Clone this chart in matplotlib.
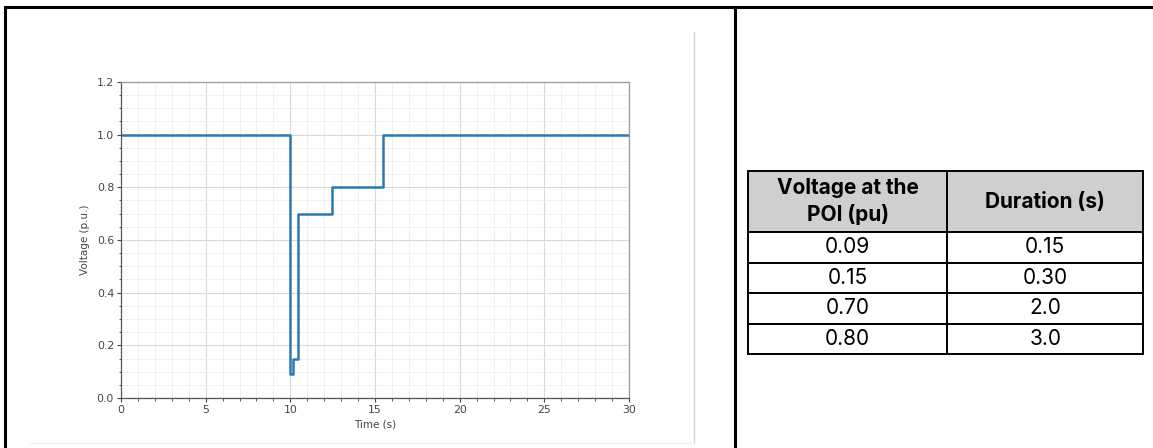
"""Voltage ride-through profile next to its table of sag levels and durations."""

import matplotlib
matplotlib.use("Agg")
import matplotlib.pyplot as plt
from matplotlib.lines import Line2D
from matplotlib.ticker import MultipleLocator

W, H = 1153, 448

# --- data ---
time_s = [0.0, 10.0, 10.15, 10.45, 12.45, 15.45, 30.0]
voltage_pu = [1.0, 0.09, 0.15, 0.70, 0.80, 1.0, 1.0]

col_labels = ["Voltage at the\nPOI (pu)", "Duration (s)"]
table_voltage = ["0.09", "0.15", "0.70", "0.80"]
table_duration = ["0.15", "0.30", "2.0", "3.0"]


def fx(px):
    return px / W


def fy(py):
    return 1 - py / H


fig = plt.figure(figsize=(W / 100, H / 100), dpi=100)
fig.patch.set_facecolor("white")

# --- document frame (top, left and middle borders) ---
frame = dict(color="black", lw=2.2, transform=fig.transFigure, solid_capstyle="butt")
fig.add_artist(Line2D([fx(4), 1], [fy(7), fy(7)], **frame))
fig.add_artist(Line2D([fx(5), fx(5)], [fy(6), 0], **frame))
fig.add_artist(Line2D([fx(735), fx(735)], [fy(6), 0], **frame))
# faint edges of the pasted plot image
fig.add_artist(Line2D([fx(694), fx(694)], [fy(32), fy(443)], color="#d4d4d4", lw=1.0,
                      transform=fig.transFigure))
fig.add_artist(Line2D([fx(30), fx(694)], [fy(443), fy(443)], color="#f0f0f0", lw=0.8,
                      transform=fig.transFigure))

# --- plot ---
ax = fig.add_axes([fx(121), fy(398), fx(629 - 121), (398 - 82) / H])
ax.step(time_s, voltage_pu, where="post", color="#2a79b0", lw=1.8)
ax.set_xlim(0, 30)
ax.set_ylim(0, 1.2)
ax.xaxis.set_major_locator(MultipleLocator(5))
ax.xaxis.set_minor_locator(MultipleLocator(1))
ax.yaxis.set_major_locator(MultipleLocator(0.2))
ax.yaxis.set_minor_locator(MultipleLocator(0.05))
ax.yaxis.set_major_formatter(lambda v, _: f"{v:.1f}")
ax.grid(which="major", color="#d9d9d9", lw=0.8)
ax.grid(which="minor", color="#eeeeee", lw=0.6)
ax.set_axisbelow(True)
ax.tick_params(which="major", length=3, width=0.8, color="#444444",
               labelsize=7.8, labelcolor="#444444", pad=2)
ax.tick_params(which="minor", length=1.8, width=0.6, color="#444444")
for side in ("left", "bottom"):
    ax.spines[side].set_color("#555555")
    ax.spines[side].set_linewidth(0.9)
for side in ("top", "right"):
    ax.spines[side].set_color("#9a9a9a")
    ax.spines[side].set_linewidth(0.9)
ax.set_xlabel("Time (s)", fontsize=7.5, color="#444444", labelpad=3)
ax.set_ylabel("Voltage (p.u.)", fontsize=7.5, color="#444444", labelpad=5)

# --- table ---
tax = fig.add_axes([fx(748), fy(354), fx(1143 - 748), (354 - 171) / H])
tax.axis("off")
rows = [[v, d] for v, d in zip(table_voltage, table_duration)]
tbl = tax.table(cellText=rows, colLabels=col_labels, cellLoc="center",
                colWidths=[0.505, 0.495], bbox=[0, 0, 1, 1])
tbl.auto_set_font_size(False)
for (r, c), cell in tbl.get_celld().items():
    cell.set_linewidth(1.4)
    cell.set_edgecolor("black")
    txt = cell.get_text()
    txt.set_fontfamily("Inter")
    txt.set_fontsize(15)
    if r == 0:
        cell.set_height(2.0)
        cell.set_facecolor("#cfcfcf")
        txt.set_fontweight("bold")
        txt.set_multialignment("center")
        txt.set_linespacing(1.3)
    else:
        cell.set_height(1.0)
        cell.set_facecolor("white")

fig.savefig("out.png", dpi=100)
